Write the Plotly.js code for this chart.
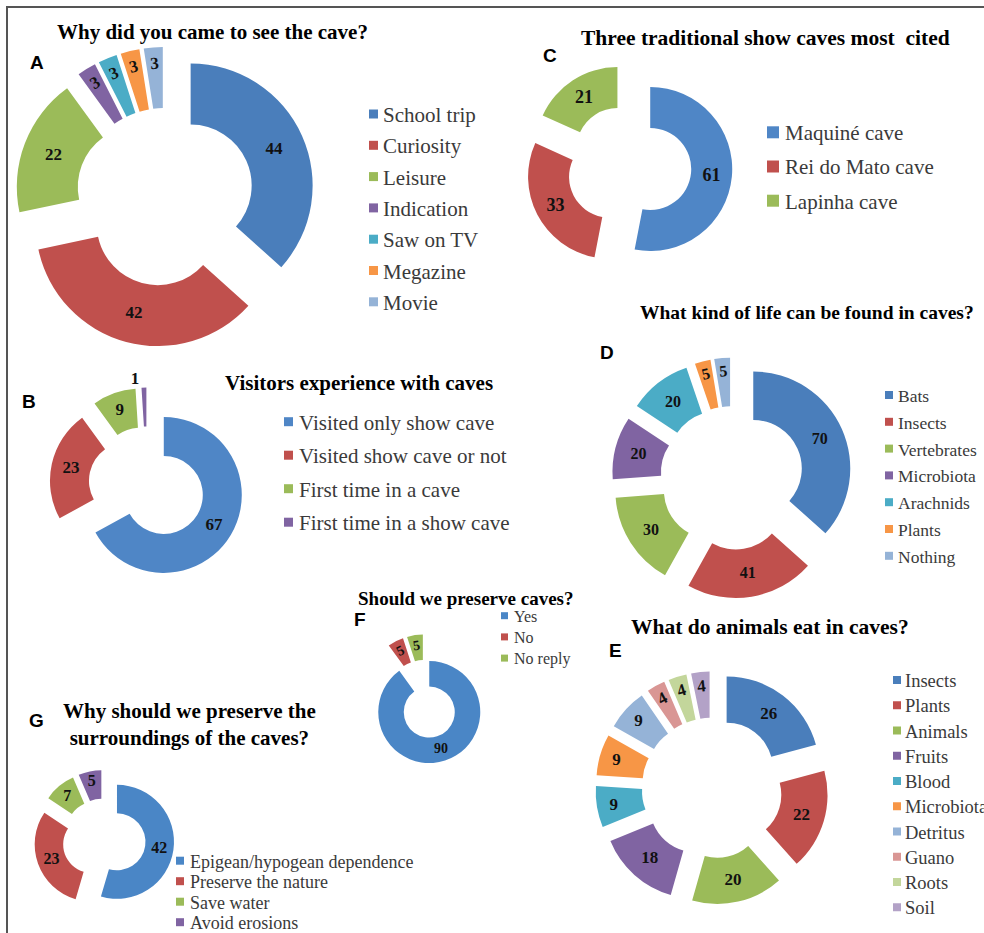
<!DOCTYPE html>
<html><head><meta charset="utf-8">
<script src="https://cdn.plot.ly/plotly-3.0.1.min.js"></script>
<style>html,body{margin:0;padding:0;background:#fff;} #chart{width:984px;height:933px;}</style>
</head><body><div id="chart"></div>
<script>
// ---------- DATA ----------
const aTitle = 'Why did you came to see the cave?';
const aLabels = ['School trip','Curiosity','Leisure','Indication','Saw on TV','Megazine','Movie'];
const aValues = [44,42,22,3,3,3,3];

const bTitle = 'Visitors experience with caves';
const bLabels = ['Visited only show cave','Visited show cave or not','First time in a cave','First time in a show cave'];
const bValues = [67,23,9,1];

const cTitle = 'Three traditional show caves most  cited';
const cLabels = ['Maquiné cave','Rei do Mato cave','Lapinha cave'];
const cValues = [61,33,21];

const dTitle = 'What kind of life can be found in caves?';
const dLabels = ['Bats','Insects','Vertebrates','Microbiota','Arachnids','Plants','Nothing'];
const dValues = [70,41,30,20,20,5,5];

const eTitle = 'What do animals eat in caves?';
const eLabels = ['Insects','Plants','Animals','Fruits','Blood','Microbiota','Detritus','Guano','Roots','Soil'];
const eValues = [26,22,20,18,9,9,9,4,4,4];

const fTitle = 'Should we preserve caves?';
const fLabels = ['Yes','No','No reply'];
const fValues = [90,5,5];

const gTitle = 'Why should we preserve the<br>surroundings of the caves?';
const gLabels = ['Epigean/hypogean dependence','Preserve the nature','Save water','Avoid erosions'];
const gValues = [42,23,7,5];

const palette = ['#4F81BD','#C0504D','#9BBB59','#8064A2','#4BACC6','#F79646','#95B3D7','#D99694','#C3D69B','#B3A2C7'];

// ---------- LAYOUT HELPERS ----------
const W = 984, H = 933;
const px = x => x / W;
const py = y => 1 - y / H;
const SERIF = 'Liberation Serif, Times New Roman, serif';
const SANS = 'Liberation Sans, Arial, sans-serif';

const panels = [
  {letter:'A', title:aTitle, labels:aLabels, values:aValues, blue:'#4A7EBB',
   cx:165, cy:197, R:122, pull:0.23, lab:17,
   tx:212, ty:32, ts:21, lx:37, ly:63,
   sq:[369,9], legX:381, legY:115, legStep:31.3, legSize:21},
  {letter:'B', title:bTitle, labels:bLabels, values:bValues, blue:'#4F86C6',
   cx:147, cy:485, R:78, pull:0.25, lab:17, pos:['inside','inside','inside','outside'],
   tx:359, ty:383, ts:21, lx:29, ly:401,
   sq:[284,9], legX:297, legY:422.7, legStep:33.5, legSize:21},
  {letter:'C', title:cTitle, labels:cLabels, values:cValues, blue:'#4F86C6',
   cx:629, cy:167, R:82, pull:0.26, lab:18,
   tx:765, ty:38, ts:21.5, lx:550, ly:55,
   sq:[767,12], legX:783, legY:133.3, legStep:34.2, legSize:21},
  {letter:'D', title:dTitle, labels:dLabels, values:dValues, blue:'#4A7EBB',
   cx:732, cy:478, R:97, pull:0.24, lab:16,
   tx:807, ty:312, ts:19.5, lx:607, ly:352,
   sq:[885,8], legX:896, legY:396, legStep:26.8, legSize:17.5},
  {letter:'E', title:eTitle, labels:eLabels, values:eValues, blue:'#4A7EBB',
   cx:712, cy:788, R:92.5, pull:0.26, lab:17,
   tx:770, ty:627, ts:21.5, lx:615, ly:650,
   sq:[893,8], legX:903, legY:681, legStep:25.25, legSize:18.5},
  {letter:'F', title:fTitle, labels:fLabels, values:fValues, blue:'#4A86C6',
   cx:425, cy:699, R:51, pull:0.27, lab:14,
   tx:466, ty:598, ts:19, lx:360, ly:619,
   sq:[501,7], legX:512, legY:616.7, legStep:21.2, legSize:16},
  {letter:'G', title:gTitle, labels:gLabels, values:gValues, blue:'#4A86C6',
   cx:104, cy:840, R:57, pull:0.23, lab:16,
   tx:189, ty:724, ts:21, lx:36, ly:720,
   sq:[176,8], legX:187.5, legY:861.7, legStep:20.5, legSize:18}
];

const data = [];
const annotations = [];
const shapes = [];

panels.forEach(p => {
  const colors = p.labels.map((_, i) => i === 0 ? p.blue : palette[i]);
  const half = p.R * (1 + p.pull);
  data.push({
    type: 'pie',
    labels: p.labels,
    values: p.values,
    hole: 0.5,
    sort: false,
    direction: 'clockwise',
    rotation: 0,
    pull: p.values.map(() => p.pull),
    marker: {colors: colors, line: {width: 0}},
    textinfo: 'value',
    textposition: p.pos || 'inside',
    insidetextorientation: 'auto',
    textfont: {family: SERIF, size: p.lab, color: '#111', weight: 'bold'},
    insidetextfont: {family: SERIF, size: p.lab, color: '#111', weight: 'bold'},
    outsidetextfont: {family: SERIF, size: p.lab, color: '#111', weight: 'bold'},
    showlegend: false,
    hoverinfo: 'label+value',
    domain: {x: [px(p.cx - half), px(p.cx + half)], y: [py(p.cy + half), py(p.cy - half)]}
  });
  // title
  annotations.push({xref:'paper', yref:'paper', x:px(p.tx), y:py(p.ty), xanchor:'center', yanchor:'middle',
    text:'<b>' + p.title + '</b>', showarrow:false, font:{family:SERIF, size:p.ts, color:'#000'}});
  // panel letter
  annotations.push({xref:'paper', yref:'paper', x:px(p.lx), y:py(p.ly), xanchor:'center', yanchor:'middle',
    text:'<b>' + p.letter + '</b>', showarrow:false, font:{family:SANS, size:19, color:'#000'}});
  // legend
  p.labels.forEach((lab, i) => {
    const yc = p.legY + i * p.legStep;
    const s = p.sq[1];
    shapes.push({type:'rect', xref:'paper', yref:'paper',
      x0:px(p.sq[0]), x1:px(p.sq[0] + s), y0:py(yc + s/2 - 1), y1:py(yc - s/2 - 1),
      fillcolor: colors[i], line:{width:0}});
    annotations.push({xref:'paper', yref:'paper', x:px(p.legX), y:py(yc), xanchor:'left', yanchor:'middle',
      text: lab, showarrow:false, font:{family:SERIF, size:p.legSize, color:'#3a3a3a'}});
  });
});

// outer frame of the figure
shapes.push({type:'line', xref:'paper', yref:'paper', x0:px(6), x1:1, y0:py(7), y1:py(7), line:{color:'#555', width:2}});
shapes.push({type:'line', xref:'paper', yref:'paper', x0:px(7), x1:px(7), y0:py(6), y1:0, line:{color:'#555', width:2}});

const layout = {
  width: W, height: H,
  margin: {l:0, r:0, t:0, b:0},
  paper_bgcolor: '#fff',
  showlegend: false,
  annotations: annotations,
  shapes: shapes
};

Plotly.newPlot('chart', data, layout, {displayModeBar:false, staticPlot:true});
</script>
</body></html>
